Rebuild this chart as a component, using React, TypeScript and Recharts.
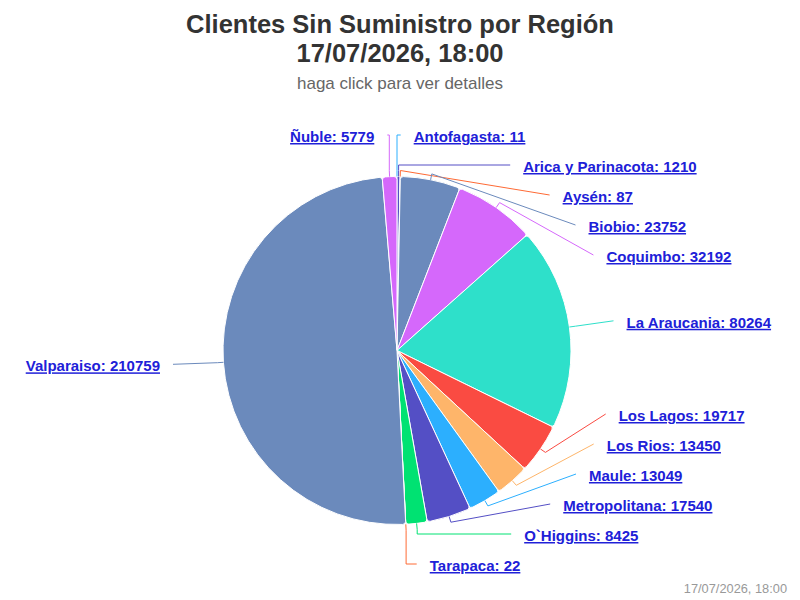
import React from 'react';
import { PieChart, Pie, Cell } from 'recharts';

const regions = ['Antofagasta', 'Arica y Parinacota', 'Aysén', 'Biobio', 'Coquimbo', 'La Araucania', 'Los Lagos', 'Los Rios', 'Maule', 'Metropolitana', 'O`Higgins', 'Tarapaca', 'Valparaiso', 'Ñuble'];
const clients = [11, 1210, 87, 23752, 32192, 80264, 19717, 13450, 13049, 17540, 8425, 22, 210759, 5779];
const sliceColors = ['#2caffe', '#544fc5', '#fe6a35', '#6b8abc', '#d568fb', '#2ee0ca', '#fa4b42', '#feb56a', '#2caffe', '#544fc5', '#00e272', '#fe6a35', '#6b8abc', '#d568fb'];
const titleLines = ['Clientes Sin Suministro por Región', '17/07/2026, 18:00'];
const subtitle = 'haga click para ver detalles';
const credit = '17/07/2026, 18:00';

const data = regions.map((name, i) => ({ name, value: clients[i] }));

const W = 800, H = 600;
const CX = 397, CY = 350.5, R = 174;
const LCX = 394, LCY = 351.8, LR = 214.8, LPAD = 19.7, SLOT = 30, NAT_R = 215;
const TOP = 137, BOTTOM = 566;
const FONT = '"Liberation Sans", Arial, Helvetica, sans-serif';

type Lab = { x: number; y: number; right: boolean };

function layoutLabels(): Record<number, Lab> {
  const total = clients.reduce((a, b) => a + b, 0);
  let acc = 0;
  const items = clients.map((v, i) => {
    const mid = ((acc + v / 2) / total) * 360;
    acc += v;
    return { i, right: mid < 180, y: LCY - NAT_R * Math.cos((mid * Math.PI) / 180) };
  });
  const result: Record<number, Lab> = {};
  [true, false].forEach((side) => {
    const list = items.filter((it) => it.right === side).sort((a, b) => a.y - b.y);
    for (let k = 0; k < list.length; k++) {
      let y = Math.max(list[k].y, TOP);
      if (k > 0) y = Math.max(y, list[k - 1].y + SLOT);
      list[k].y = y;
    }
    for (let k = list.length - 1; k >= 0; k--) {
      let y = Math.min(list[k].y, BOTTOM);
      if (k < list.length - 1) y = Math.min(y, list[k + 1].y - SLOT);
      list[k].y = y;
    }
    list.forEach((it) => {
      const dy = it.y - LCY;
      const dx = LPAD + Math.sqrt(Math.max(0, LR * LR - dy * dy));
      result[it.i] = { x: side ? LCX + dx : LCX - dx, y: it.y, right: side };
    });
  });
  return result;
}

const LABELS = layoutLabels();

const renderLabel = (props: any) => {
  const { cx, cy, midAngle, outerRadius, index, name, value } = props;
  const lab = LABELS[index];
  if (!lab) return null;
  const rad = Math.PI / 180;
  const c = Math.cos(-midAngle * rad), s = Math.sin(-midAngle * rad);
  const tx = cx + outerRadius * c, ty = cy + outerRadius * s;
  const bx = cx + (outerRadius + 6) * c, by = cy + (outerRadius + 6) * s;
  const ly = lab.y - 2;
  const lx = lab.right ? lab.x - 13 : lab.x + 13;
  const pts: number[][] = [[tx, ty], [bx, by]];
  if (Math.abs(s) > 0.9 && Math.abs(ly - LCY) > Math.abs(by - LCY)) pts.push([bx, ly]);
  pts.push([lx, ly]);
  const d = pts.map((p, k) => `${k === 0 ? 'M' : 'L'}${p[0].toFixed(1)},${p[1].toFixed(1)}`).join(' ');
  const color = sliceColors[index];
  return (
    <g key={`lab-${index}`}>
      <path d={d} stroke={color} strokeWidth={1} fill="none" />
      <text
        x={lab.x}
        y={lab.y + 5}
        textAnchor={lab.right ? 'start' : 'end'}
        fill="#2020d8"
        fontFamily={FONT}
        fontSize={15}
        fontWeight="bold"
        textDecoration="underline"
        style={{ textDecoration: 'underline' }}
      >
        {`${name}: ${value}`}
      </text>
    </g>
  );
};

export default function App() {
  return (
    <div style={{ position: 'absolute', left: 0, top: 0, width: W, height: H, background: '#ffffff', fontFamily: FONT }}>
      <svg width={W} height={H} style={{ position: 'absolute', left: 0, top: 0 }}>
        <text x={400} y={33} textAnchor="middle" fontFamily={FONT} fontSize={25.5} fontWeight="bold" fill="#333333">{titleLines[0]}</text>
        <text x={400} y={62} textAnchor="middle" fontFamily={FONT} fontSize={25.5} fontWeight="bold" fill="#333333">{titleLines[1]}</text>
        <text x={400} y={89} textAnchor="middle" fontFamily={FONT} fontSize={17} fill="#666666">{subtitle}</text>
        <text x={787} y={593} textAnchor="end" fontFamily={FONT} fontSize={12.8} fill="#999999">{credit}</text>
      </svg>
      <div style={{ position: 'absolute', left: 0, top: 0 }}>
        <PieChart width={W} height={H} margin={{ top: 0, right: 0, bottom: 0, left: 0 }}>
          <Pie
            data={data}
            dataKey="value"
            nameKey="name"
            cx={CX}
            cy={CY}
            outerRadius={R}
            innerRadius={0}
            startAngle={90}
            endAngle={-270}
            stroke="#ffffff"
            strokeWidth={1}
            cornerRadius={3}
            labelLine={false}
            label={renderLabel}
            isAnimationActive={false}
          >
            {data.map((d, i) => (
              <Cell key={d.name} fill={sliceColors[i]} />
            ))}
          </Pie>
        </PieChart>
      </div>
    </div>
  );
}
